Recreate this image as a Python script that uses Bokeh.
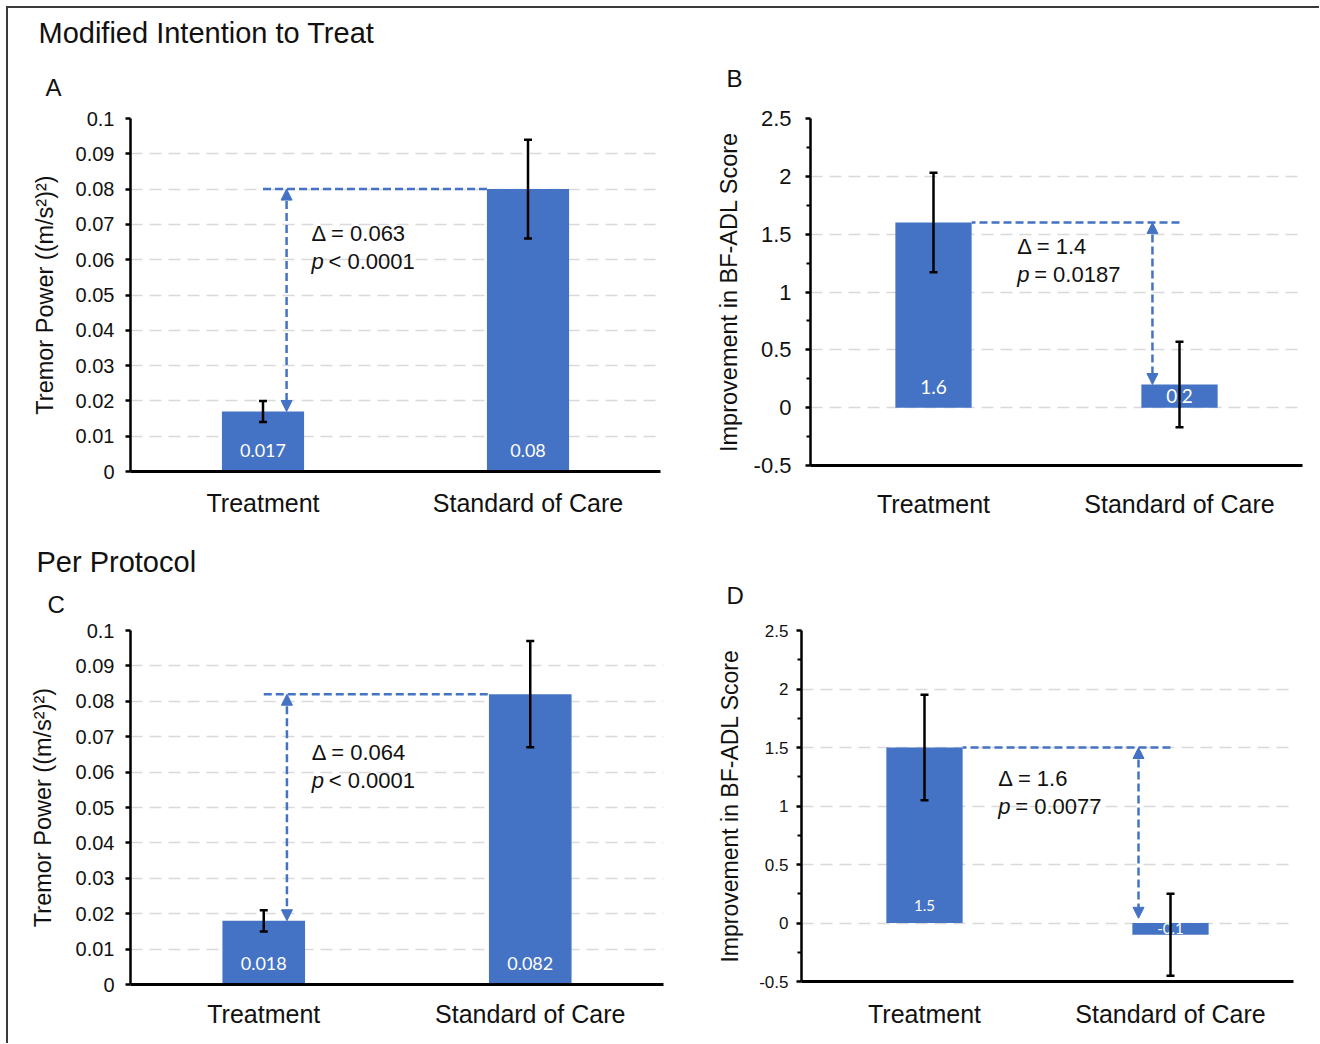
import numpy as np
from bokeh.plotting import figure
from bokeh.layouts import column, row
from bokeh.models import (FixedTicker, NumeralTickFormatter, Range1d, Title, Arrow, NormalHead,
                          Whisker, TeeHead, ColumnDataSource, Label)
from bokeh.core.properties import value
from bokeh.embed import file_html
from bokeh.resources import INLINE

# ---------------- data ----------------
categories = ["Treatment", "Standard of Care"]

mitt_tremor = [0.017, 0.080]
mitt_tremor_err = [0.003, 0.014]
mitt_tremor_text = ["0.017", "0.08"]
mitt_tremor_stats = ["Δ = 0.063", "< 0.0001"]

mitt_adl = [1.6, 0.2]
mitt_adl_err = [0.43, 0.37]
mitt_adl_text = ["1.6", "0.2"]
mitt_adl_stats = ["Δ = 1.4", "= 0.0187"]

pp_tremor = [0.018, 0.082]
pp_tremor_err = [0.003, 0.015]
pp_tremor_text = ["0.018", "0.082"]
pp_tremor_stats = ["Δ = 0.064", "< 0.0001"]

pp_adl = [1.5, -0.1]
pp_adl_err = [0.45, 0.35]
pp_adl_text = ["1.5", "-0.1"]
pp_adl_stats = ["Δ = 1.6", "= 0.0077"]

tremor_ticks = [0, 0.01, 0.02, 0.03, 0.04, 0.05, 0.06, 0.07, 0.08, 0.09, 0.1]
adl_ticks = [-0.5, 0, 0.5, 1, 1.5, 2, 2.5]

tremor_label = "Tremor Power ((m/s²)²)"
adl_label = "Improvement in BF-ADL Score"

section_titles = ["Modified Intention to Treat", "Per Protocol"]
panel_letters = ["A", "B", "C", "D"]

# ---------------- style ----------------
BLUE = "#4472C4"
FONT = "Liberation Sans"
TXT = "#111111"


def make_panel(vals, errs, texts, stats, ticks, ylabel, letter, section, cfg):
    fh = cfg["h"] - cfg["bt"] - cfg["bb"]
    span = ticks[-1] - ticks[0]
    p = figure(width=cfg["w"], height=cfg["h"], output_backend="svg", toolbar_location=None,
               x_range=Range1d(-0.5, 1.5), y_range=Range1d(ticks[0], ticks[-1]),
               min_border_left=cfg["bl"], min_border_right=cfg["br"],
               min_border_top=cfg["bt"], min_border_bottom=cfg["bb"])
    p.outline_line_color = None
    p.background_fill_color = "white"
    p.border_fill_color = "white"

    idx = list(range(len(categories)))
    bw = 0.31
    p.vbar(x=idx, top=vals, bottom=0, width=bw, fill_color=BLUE, line_color=None)

    # bar value labels
    ly = []
    for v in vals:
        if abs(v) / span > 0.15:
            ly.append(cfg["lab_px"] / fh * span)
        else:
            ly.append(v / 2)
    lsrc = ColumnDataSource(dict(x=idx, y=ly, t=texts))
    p.text(x="x", y="y", text="t", source=lsrc, text_align="center", text_baseline="middle",
           text_color="white", text_font=value("Lato"), text_font_size=cfg["lab_size"])

    # error bars
    esrc = ColumnDataSource(dict(x=idx, upper=[v + e for v, e in zip(vals, errs)],
                                 lower=[v - e for v, e in zip(vals, errs)]))
    w = Whisker(source=esrc, base="x", upper="upper", lower="lower", dimension="height",
                line_color="black", line_width=2.5, level="annotation",
                upper_head=TeeHead(size=8, line_width=2.5, line_color="black"),
                lower_head=TeeHead(size=8, line_width=2.5, line_color="black"))
    p.add_layout(w)

    # difference annotation
    lo = int(np.argmin(vals))
    hi = 1 - lo
    edge = hi - bw / 2 if hi > lo else hi + bw / 2
    p.segment(x0=[lo], y0=[vals[hi]], x1=[edge], y1=[vals[hi]], line_color=BLUE,
              line_width=2.5, line_dash="8 4")
    ax = lo + cfg["arrow_dx"]
    p.add_layout(Arrow(start=NormalHead(size=11, fill_color=BLUE, line_color=BLUE, line_width=1),
                       end=NormalHead(size=11, fill_color=BLUE, line_color=BLUE, line_width=1),
                       x_start=ax, y_start=vals[hi], x_end=ax, y_end=max(vals[lo], 0) + cfg["arrow_gap"],
                       line_color=BLUE, line_width=2.5, line_dash="8 4"))
    ty = ticks[0] + cfg["text_fy"] * span
    ty2 = ty - 28 / fh * span
    p.add_layout(Label(x=cfg["text_x"], y=ty, text=stats[0], text_font=FONT, text_font_size="22px",
                       text_baseline="middle", text_color=TXT))
    p.add_layout(Label(x=cfg["text_x"], y=ty2, text="p", text_font=FONT, text_font_size="22px",
                       text_font_style="italic", text_baseline="middle", text_color=TXT))
    p.add_layout(Label(x=cfg["text_x"], y=ty2, x_offset=17, text=stats[1], text_font=FONT,
                       text_font_size="22px", text_baseline="middle", text_color=TXT))

    # y axis
    ya = p.yaxis[0]
    minor = [(a + b) / 2 for a, b in zip(ticks[:-1], ticks[1:])] if cfg["minor"] else []
    ya.ticker = FixedTicker(ticks=ticks, minor_ticks=minor)
    ya.formatter = NumeralTickFormatter(format="0.[00]")
    ya.axis_label = ylabel
    ya.axis_label_text_font = FONT
    ya.axis_label_text_font_size = cfg["ylab_size"]
    ya.axis_label_text_font_style = "normal"
    ya.axis_label_text_color = TXT
    ya.axis_label_standoff = cfg["ylab_so"]
    ya.major_label_text_font = FONT
    ya.major_label_text_font_size = cfg["ytick_size"]
    ya.major_label_text_color = TXT
    ya.major_label_standoff = cfg["ytick_so"]
    ya.axis_line_width = 2.5
    ya.axis_line_color = "black"
    ya.major_tick_line_width = 2.5
    ya.major_tick_line_color = "black"
    ya.major_tick_out = 5
    ya.major_tick_in = 0
    ya.minor_tick_line_width = 2
    ya.minor_tick_line_color = "black"
    ya.minor_tick_out = 4
    ya.minor_tick_in = 0

    # x axis
    xa = p.xaxis[0]
    xa.ticker = FixedTicker(ticks=idx)
    xa.major_label_overrides = {i: c for i, c in enumerate(categories)}
    xa.major_tick_out = 0
    xa.major_tick_in = 0
    xa.minor_tick_out = 0
    xa.minor_tick_in = 0
    xa.axis_line_width = 3
    xa.axis_line_color = "black"
    xa.major_label_text_font = FONT
    xa.major_label_text_font_size = "25px"
    xa.major_label_text_color = TXT
    xa.major_label_standoff = cfg["xlab_so"]

    p.xgrid.visible = False
    p.ygrid.grid_line_color = "#d9d9d9"
    p.ygrid.grid_line_dash = "12 7"
    p.ygrid.grid_line_width = 1.5

    # panel letter and section heading
    p.add_layout(Title(text=letter, text_font=FONT, text_font_size="24px", text_font_style="normal",
                       text_color=TXT, align="left", vertical_align="top",
                       offset=cfg["let_dx"], standoff=cfg["let_so"]), "above")
    if section:
        p.add_layout(Title(text=section, text_font=FONT, text_font_size="29px", text_font_style="normal",
                           text_color=TXT, align="left", vertical_align="top",
                           offset=cfg["sec_dx"], standoff=cfg["sec_so"]), "above")
    return p


cfgA = dict(w=682, h=533, bl=122, br=30, bt=110, bb=70, lab_px=21, lab_size="18px",
            arrow_dx=0.089, arrow_gap=0.0, text_x=0.183, text_fy=0.673, minor=False,
            ytick_size="20px", ytick_so=11, ylab_size="23.5px", ylab_so=15, xlab_so=17,
            let_dx=-85, let_so=32, sec_dx=-92, sec_so=14)
cfgB = dict(w=629, h=527, bl=120, br=17, bt=110, bb=70, lab_px=21, lab_size="19px",
            arrow_dx=-0.11, arrow_gap=0.0, text_x=0.34, text_fy=0.63, minor=True,
            ytick_size="22px", ytick_so=14, ylab_size="23.5px", ylab_so=9, xlab_so=24,
            let_dx=-84, let_so=49, sec_dx=0, sec_so=0)
cfgC = dict(w=682, h=502, bl=122, br=27, bt=89, bb=59, lab_px=21, lab_size="18px",
            arrow_dx=0.087, arrow_gap=0.0, text_x=0.18, text_fy=0.654, minor=False,
            ytick_size="20px", ytick_so=11, ylab_size="23.5px", ylab_so=17, xlab_so=15,
            let_dx=-83, let_so=22, sec_dx=-94, sec_so=0)
cfgD = dict(w=629, h=499, bl=111, br=26, bt=89, bb=59, lab_px=18, lab_size="15px",
            arrow_dx=-0.13, arrow_gap=0.04, text_x=0.30, text_fy=0.577, minor=True,
            ytick_size="17px", ytick_so=8, ylab_size="23px", ylab_so=13, xlab_so=18,
            let_dx=-75, let_so=39, sec_dx=0, sec_so=0)

pA = make_panel(mitt_tremor, mitt_tremor_err, mitt_tremor_text, mitt_tremor_stats, tremor_ticks,
                tremor_label, panel_letters[0], section_titles[0], cfgA)
pB = make_panel(mitt_adl, mitt_adl_err, mitt_adl_text, mitt_adl_stats, adl_ticks,
                adl_label, panel_letters[1], None, cfgB)
pC = make_panel(pp_tremor, pp_tremor_err, pp_tremor_text, pp_tremor_stats, tremor_ticks,
                tremor_label, panel_letters[2], section_titles[1], cfgC)
pD = make_panel(pp_adl, pp_adl_err, pp_adl_text, pp_adl_stats, adl_ticks,
                adl_label, panel_letters[3], None, cfgD)

layout = column(row(pA, pB), row(pC, pD),
                styles={"margin-top": "6px", "margin-left": "6px",
                        "border-top": "2px solid #3a3a3a", "border-left": "2px solid #3a3a3a"})

open("out.html", "w").write(file_html(layout, INLINE))
